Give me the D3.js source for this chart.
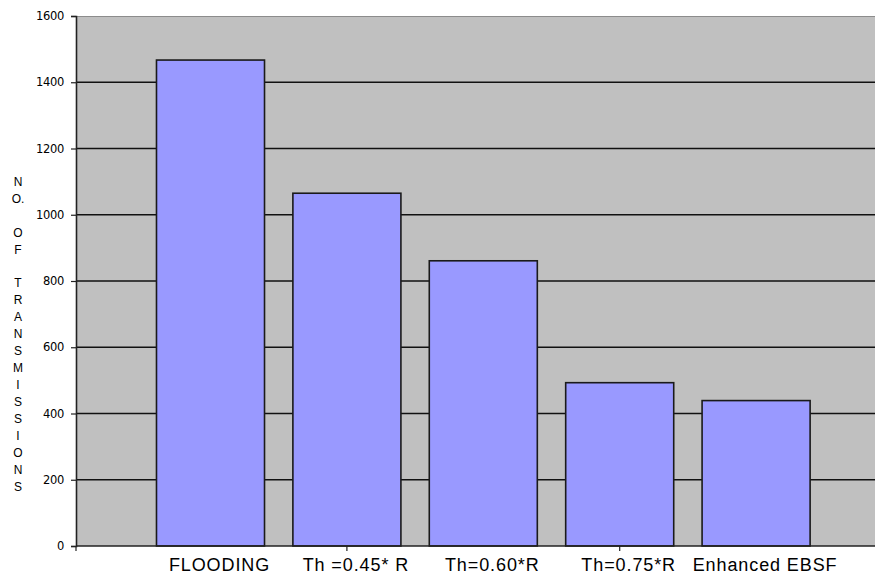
<!DOCTYPE html>
<html>
<head>
<meta charset="utf-8">
<script src="https://cdn.jsdelivr.net/npm/d3@7/dist/d3.min.js"></script>
<style>
  html, body { margin: 0; padding: 0; background: #ffffff; }
  svg { display: block; }
</style>
</head>
<body>
<svg id="chart" width="875" height="576"></svg>
<script>
// Number of transmissions per broadcast scheme
const categories = ["FLOODING", "Th =0.45* R", "Th=0.60*R", "Th=0.75*R", "Enhanced EBSF"];
const transmissions = [1467, 1065, 861, 493, 439];
const yTicks = [0, 200, 400, 600, 800, 1000, 1200, 1400, 1600];
const yTitle = ["N", "O.", "", "O", "F", "", "T", "R", "A", "N", "S", "M", "I", "S", "S", "I", "O", "N", "S"];

const svg = d3.select("#chart");
const W = 875;

const plot = { left: 76, top: 16, right: W, bottom: 546 };

const y = d3.scaleLinear().domain([0, 1600]).range([plot.bottom, plot.top]);
const x = d3.scaleBand()
  .domain(categories)
  .range([142.3, 824.3])
  .paddingInner(0.208)
  .paddingOuter(0.104);

// plot area background
svg.append("rect")
  .attr("x", plot.left).attr("y", plot.top)
  .attr("width", plot.right - plot.left).attr("height", plot.bottom - plot.top)
  .attr("fill", "#c0c0c0");

// top border of the plot area
svg.append("line")
  .attr("x1", plot.left).attr("x2", plot.right)
  .attr("y1", plot.top + 0.5).attr("y2", plot.top + 0.5)
  .attr("stroke", "#8c8c8c").attr("stroke-width", 1);

// horizontal gridlines
svg.append("g")
  .selectAll("line")
  .data(yTicks.filter(d => d > 0 && d < 1600))
  .join("line")
  .attr("x1", plot.left).attr("x2", plot.right)
  .attr("y1", d => y(d)).attr("y2", d => y(d))
  .attr("stroke", "#111").attr("stroke-width", 1.6);

// bars
svg.append("g")
  .selectAll("rect")
  .data(categories)
  .join("rect")
  .attr("x", d => x(d))
  .attr("y", (d, i) => y(transmissions[i]))
  .attr("width", x.bandwidth())
  .attr("height", (d, i) => y(0) - y(transmissions[i]))
  .attr("fill", "#9999ff")
  .attr("stroke", "#1a1a1a")
  .attr("stroke-width", 1.6);

// y axis
const yAxis = d3.axisLeft(y)
  .tickValues(yTicks)
  .tickFormat(d3.format("d"))
  .tickSize(5)
  .tickPadding(7);
const gy = svg.append("g")
  .attr("transform", `translate(${plot.left},0)`)
  .call(yAxis);
gy.select(".domain").attr("stroke", "#222").attr("stroke-width", 1.6);
gy.selectAll(".tick line").attr("stroke", "#222").attr("stroke-width", 1.2);
gy.selectAll(".tick text")
  .attr("fill", "#000")
  .style("font-family", "'DejaVu Sans', sans-serif")
  .style("font-size", "11.5px")
  .style("letter-spacing", "-0.3px");

// x axis baseline with sparse tick marks
svg.append("line")
  .attr("x1", plot.left).attr("x2", plot.right)
  .attr("y1", plot.bottom).attr("y2", plot.bottom)
  .attr("stroke", "#222").attr("stroke-width", 1.6);
const xTickPos = [plot.left, x(categories[1]) + x.bandwidth() / 2, x(categories[3]) + x.bandwidth() / 2];
svg.append("g")
  .selectAll("line")
  .data(xTickPos)
  .join("line")
  .attr("x1", d => d).attr("x2", d => d)
  .attr("y1", plot.bottom).attr("y2", plot.bottom + 5)
  .attr("stroke", "#222").attr("stroke-width", 1.2);

// category labels
svg.append("g")
  .selectAll("text")
  .data(categories)
  .join("text")
  .attr("x", d => x(d) + x.bandwidth() / 2 + 9)
  .attr("y", 571)
  .attr("text-anchor", "middle")
  .attr("fill", "#000")
  .style("font-family", "'Liberation Sans', Arial, sans-serif")
  .style("font-size", "18px")
  .style("letter-spacing", "0.9px")
  .text(d => d);

// stacked vertical axis title
svg.append("g")
  .selectAll("text")
  .data(yTitle)
  .join("text")
  .attr("x", 18)
  .attr("y", (d, i) => 181.5 + i * 16.95)
  .attr("dy", "0.35em")
  .attr("text-anchor", "middle")
  .attr("fill", "#000")
  .style("font-family", "'Liberation Sans', Arial, sans-serif")
  .style("font-size", "12px")
  .text(d => d);
</script>
</body>
</html>
